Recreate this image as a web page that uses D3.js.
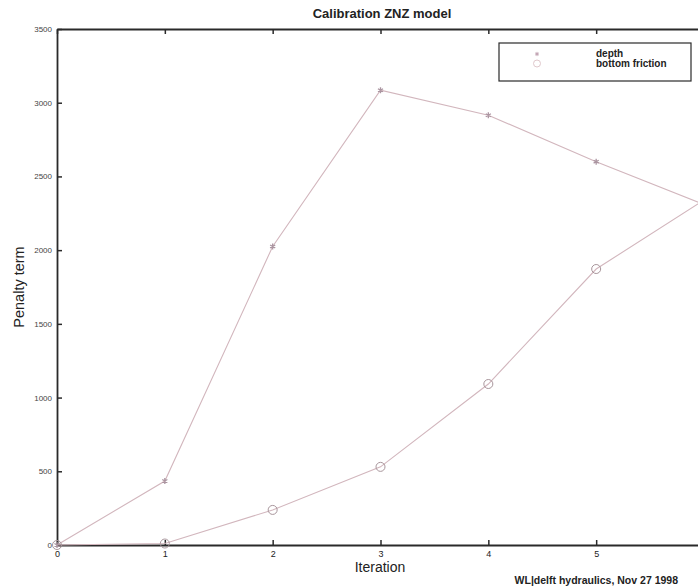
<!DOCTYPE html>
<html>
<head>
<meta charset="utf-8">
<script src="https://cdn.jsdelivr.net/npm/d3@7/dist/d3.min.js"></script>
<style>
  body { margin: 0; background: #fff; }
  svg { display: block; font-family: "Liberation Sans", Arial, sans-serif; }
</style>
</head>
<body>
<svg id="viz_area" width="698" height="588"></svg>
<script>
// data
const iterations = [0, 1, 2, 3, 4, 5, 6];
const depth = [0, 434, 2025, 3085, 2915, 2600, 2310];
const bottomFriction = [0, 10, 238, 530, 1092, 1872, 2340];
const xTicks = [0, 1, 2, 3, 4, 5];
const yTicks = [0, 500, 1000, 1500, 2000, 2500, 3000, 3500];

const run = () => {
    const margin = {top: 29, left: 57, bottom: 43, right: -6};
    const width = 698 - margin.left - margin.right,
          height = 588 - margin.top - margin.bottom;

    const svg = d3.select("#viz_area");

    const x = d3.scaleLinear().domain([0, 6]).range([margin.left, margin.left + width]);
    const y = d3.scaleLinear().domain([0, 3500]).range([margin.top + height, margin.top]);

    const lineCol = "#d2b6bd";
    const axisCol = "#2a2a2a";

    // axes: matlab style box with inward ticks
    const bottom = svg.append("g")
        .attr("transform", "translate(0," + y(0) + ")")
        .call(d3.axisBottom(x).tickValues(xTicks).tickFormat(d3.format("d"))
              .tickSize(-5).tickSizeOuter(0).tickPadding(6));
    const left = svg.append("g")
        .attr("transform", "translate(" + x(0) + ",0)")
        .call(d3.axisLeft(y).tickValues(yTicks).tickFormat(d3.format("d"))
              .tickSize(-5).tickSizeOuter(0).tickPadding(5));
    svg.append("g")
        .attr("transform", "translate(0," + y(3500) + ")")
        .call(d3.axisTop(x).tickValues(xTicks).tickSize(-5).tickSizeOuter(0).tickFormat(""));
    svg.append("g")
        .attr("transform", "translate(" + x(6) + ",0)")
        .call(d3.axisRight(y).tickValues(yTicks).tickSize(-5).tickSizeOuter(0).tickFormat(""));

    svg.selectAll(".domain").attr("stroke", axisCol).attr("stroke-width", 1.8);
    svg.selectAll(".tick line").attr("stroke", axisCol).attr("stroke-width", 1.5);
    bottom.selectAll("text").attr("font-size", 9).attr("fill", "#222");
    left.selectAll("text").attr("font-size", 8).attr("fill", "#444");

    const line = d3.line().x((d, i) => x(iterations[i])).y(d => y(d));

    svg.append("path").datum(depth)
        .attr("d", line).attr("fill", "none")
        .attr("stroke", lineCol).attr("stroke-width", 1.1);
    svg.append("path").datum(bottomFriction)
        .attr("d", line).attr("fill", "none")
        .attr("stroke", lineCol).attr("stroke-width", 1.1);

    // asterisk markers for depth
    const star = d3.symbol().type(d3.symbolAsterisk).size(24);
    svg.selectAll("path.depth")
        .data(depth)
        .enter()
        .append("path")
        .attr("class", "depth")
        .attr("transform", (d, i) => "translate(" + x(iterations[i]) + "," + y(d) + ")")
        .attr("d", star)
        .attr("fill", "none")
        .attr("stroke", "#ab95a1")
        .attr("stroke-width", 1.3);

    svg.selectAll("circle.fric")
        .data(bottomFriction)
        .enter()
        .append("circle")
        .attr("class", "fric")
        .attr("cx", (d, i) => x(iterations[i]))
        .attr("cy", d => y(d))
        .attr("r", 4.5)
        .attr("fill", "none")
        .attr("stroke", "#a8959b")
        .attr("stroke-width", 1);

    // legend
    const lg = svg.append("g");
    lg.append("rect")
        .attr("x", 499).attr("y", 43).attr("width", 192).attr("height", 38)
        .attr("fill", "#fff").attr("stroke", axisCol).attr("stroke-width", 1.2);
    lg.append("path")
        .attr("transform", "translate(537,54)")
        .attr("d", d3.symbol().type(d3.symbolAsterisk).size(12))
        .attr("stroke", "#c0a0b0").attr("fill", "none");
    lg.append("circle")
        .attr("cx", 537).attr("cy", 63.5).attr("r", 3.5)
        .attr("fill", "none").attr("stroke", "#e0c8cc");
    lg.append("text").attr("x", 596).attr("y", 57)
        .attr("font-size", 10).attr("font-weight", "bold").attr("fill", "#222")
        .text("depth");
    lg.append("text").attr("x", 596).attr("y", 67)
        .attr("font-size", 10).attr("font-weight", "bold").attr("fill", "#222")
        .text("bottom friction");

    // titles
    svg.append("text")
        .attr("x", 382).attr("y", 18)
        .attr("text-anchor", "middle")
        .attr("font-size", 13).attr("font-weight", "bold").attr("fill", "#222")
        .text("Calibration ZNZ model");
    svg.append("text")
        .attr("x", 380).attr("y", 572)
        .attr("text-anchor", "middle")
        .attr("font-size", 14).attr("fill", "#222")
        .text("Iteration");
    svg.append("text")
        .attr("transform", "translate(24," + (y(1750)) + ") rotate(-90)")
        .attr("text-anchor", "middle")
        .attr("font-size", 14.5).attr("fill", "#222")
        .text("Penalty term");
    svg.append("text")
        .attr("x", 678).attr("y", 584)
        .attr("text-anchor", "end")
        .attr("font-size", 10.5).attr("font-weight", "bold").attr("fill", "#222")
        .text("WL|delft hydraulics,  Nov 27 1998");
};
window.onload = run;
</script>
</body>
</html>
